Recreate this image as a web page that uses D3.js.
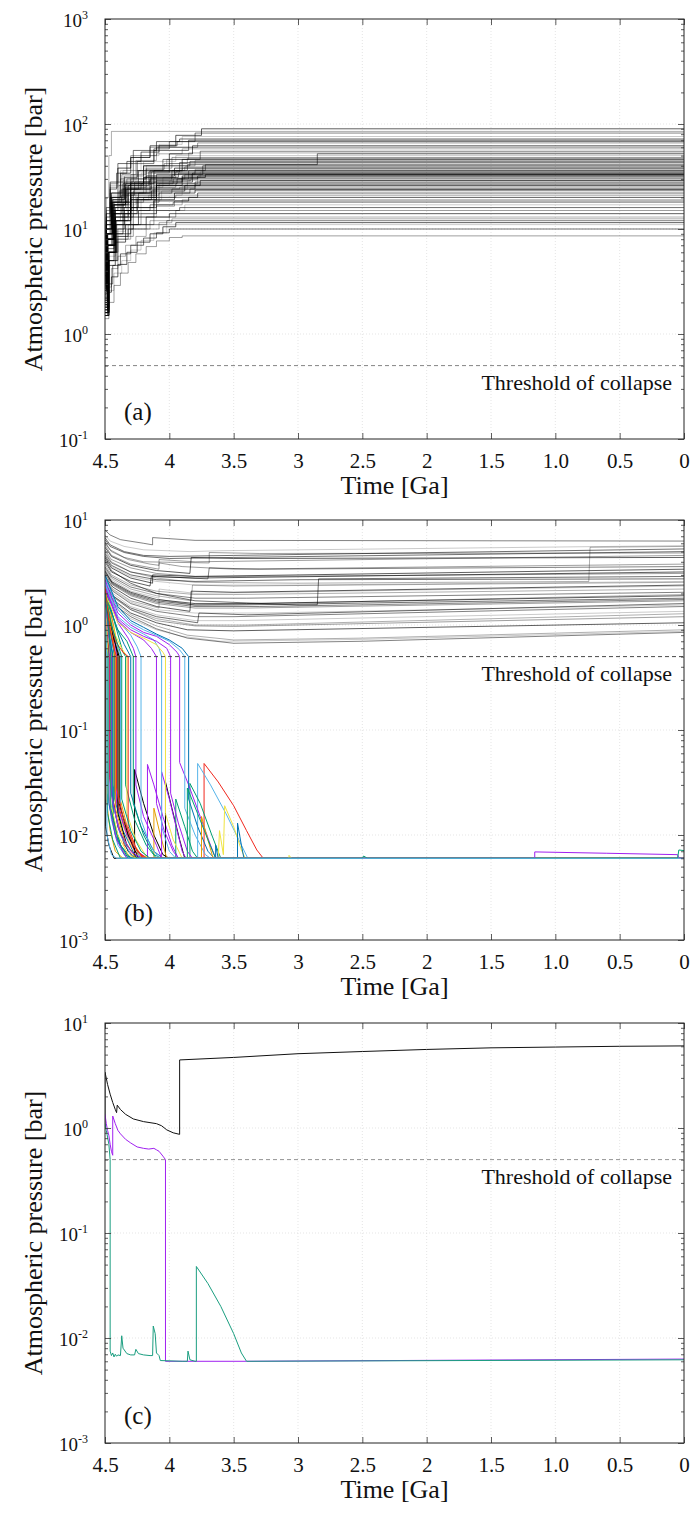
<!DOCTYPE html>
<html>
<head>
<meta charset="utf-8">
<script src="https://cdn.jsdelivr.net/npm/d3@7"></script>
<style>
	body { margin: 0; background: #fff; }
	svg text { font-family: "Liberation Serif", "Tinos", "DejaVu Serif", "Times New Roman", serif; fill: #111; }
</style>
</head>
<body>
<svg id="chart" width="696" height="1516"></svg>
<script>
/*
 * atmospheric pressure runs, three panels
 */

var timeTicks = [4.5, 4, 3.5, 3, 2.5, 2, 1.5, 1.0, 0.5, 0];
var timeLabels = ["4.5", "4", "3.5", "3", "2.5", "2", "1.5", "1.0", "0.5", "0"];
var THRESHOLD = 0.5;

// panel (a): every run survives, step histories [time Ga, bar]
var runsA = [
	[[4.5,2.4],[4.49,9],[4.46,20],[4.38,34],[4.3,48],[4.15,62],[3.95,78],[3.75,90],[0,90]],
	[[4.5,3.0],[4.49,20],[4.47,50],[4.45,85],[0,85]],
	[[4.5,1.8],[4.48,7],[4.45,15],[4.4,28],[4.28,42],[4.12,58],[4.0,68],[3.8,82],[0,82]],
	[[4.5,2.6],[4.49,10],[4.45,22],[4.36,36],[4.22,50],[4.08,64],[3.9,76],[0,76]],
	[[4.5,2.2],[4.48,9],[4.44,19],[4.35,31],[4.25,44],[4.12,56],[3.85,70],[0,70]],
	[[4.5,3.4],[4.49,13],[4.46,25],[4.4,38],[4.3,50],[4.1,60],[3.78,66],[0,66]],
	[[4.5,2.0],[4.48,8],[4.43,17],[4.34,27],[4.2,40],[4.0,52],[3.82,62],[0,62]],
	[[4.5,2.8],[4.49,11],[4.45,22],[4.37,33],[4.26,45],[4.1,52],[3.9,58],[0,58]],
	[[4.5,1.6],[4.48,7],[4.44,14],[4.36,24],[4.24,36],[4.05,46],[3.76,55],[0,55]],
	[[4.5,3.8],[4.49,14],[4.46,26],[4.38,36],[4.2,44],[3.95,50],[0,50]],
	[[4.5,2.3],[4.48,9],[4.43,18],[4.3,28],[4.15,36],[3.86,41],[2.85,52],[0,52]],
	[[4.5,2.7],[4.49,10],[4.44,20],[4.33,30],[4.18,38],[3.98,48],[0,48]],
	[[4.5,1.9],[4.48,8],[4.42,16],[4.3,27],[4.12,36],[3.9,46],[0,46]],
	[[4.5,3.1],[4.49,12],[4.45,22],[4.35,32],[4.2,40],[3.8,45],[0,45]],
	[[4.5,2.1],[4.48,8],[4.43,17],[4.32,26],[4.16,35],[3.92,43],[0,43]],
	[[4.5,2.5],[4.49,10],[4.44,19],[4.34,28],[4.22,34],[4.0,42],[0,42]],
	[[4.5,1.7],[4.48,7],[4.42,15],[4.3,24],[4.1,33],[3.74,40],[0,40]],
	[[4.5,3.6],[4.49,13],[4.46,22],[4.38,30],[4.25,36],[3.88,39],[0,39]],
	[[4.5,2.2],[4.48,9],[4.44,17],[4.34,25],[4.18,32],[3.96,38],[0,38]],
	[[4.5,2.9],[4.49,11],[4.45,20],[4.35,28],[4.12,34],[3.8,37],[0,37]],
	[[4.5,1.5],[4.47,6],[4.42,13],[4.32,22],[4.15,30],[3.85,36],[0,36]],
	[[4.5,2.4],[4.48,9],[4.43,17],[4.3,25],[4.05,31],[3.76,35],[0,35]],
	[[4.5,3.2],[4.49,12],[4.45,20],[4.36,27],[4.2,31],[3.93,34],[0,34]],
	[[4.5,2.0],[4.48,8],[4.42,15],[4.28,23],[4.1,29],[3.83,33],[0,33]],
	[[4.5,2.6],[4.49,10],[4.44,18],[4.33,24],[4.14,28],[3.9,32],[0,32]],
	[[4.5,1.8],[4.48,7],[4.43,14],[4.3,21],[4.08,27],[3.78,31],[0,31]],
	[[4.5,3.0],[4.49,11],[4.45,18],[4.37,24],[4.22,27],[3.97,30],[0,30]],
	[[4.5,2.3],[4.48,9],[4.44,16],[4.32,22],[4.12,26],[3.86,29],[0,29]],
	[[4.5,1.6],[4.47,6],[4.41,12],[4.3,19],[4.1,24],[3.8,28],[0,28]],
	[[4.5,2.8],[4.49,10],[4.45,17],[4.35,22],[4.18,25],[3.95,27],[0,27]],
	[[4.5,2.1],[4.48,8],[4.43,14],[4.3,19],[4.14,23],[3.88,26],[0,26]],
	[[4.5,3.5],[4.49,12],[4.46,18],[4.38,22],[4.2,24],[3.92,25],[0,25]],
	[[4.5,1.9],[4.48,7],[4.42,13],[4.28,18],[4.08,22],[3.84,24],[0,24]],
	[[4.5,2.5],[4.49,9],[4.44,15],[4.33,19],[4.16,21],[3.9,23],[0,23]],
	[[4.5,1.7],[4.47,6],[4.41,11],[4.3,16],[4.1,20],[3.78,22],[0,22]],
	[[4.5,2.7],[4.49,10],[4.45,15],[4.36,18],[4.2,20],[3.95,21],[0,21]],
	[[4.5,2.0],[4.48,7],[4.42,12],[4.3,16],[4.12,18.5],[3.85,20],[0,20]],
	[[4.5,1.6],[4.47,6],[4.4,10],[4.28,14],[4.1,17],[3.9,19],[0,19]],
	[[4.5,2.4],[4.48,8],[4.43,12],[4.32,15],[4.15,17],[3.97,18],[0,18]],
	[[4.5,1.8],[4.47,6],[4.4,10],[4.28,13],[4.1,15],[3.88,17],[0,17]],
	[[4.5,2.2],[4.48,7],[4.42,11],[4.3,13],[4.12,15],[3.92,16],[0,16]],
	[[4.5,1.5],[4.47,5],[4.4,8.5],[4.28,11],[4.12,13],[3.95,15],[0,15]],
	[[4.5,2.0],[4.48,6],[4.42,9],[4.3,11],[4.18,13],[4.0,14],[0,14]],
	[[4.5,1.6],[4.47,5],[4.4,8],[4.3,10],[4.15,12],[4.0,13],[0,13]],
	[[4.5,1.9],[4.48,6],[4.42,8.5],[4.32,10],[4.18,11],[4.02,12],[0,12]],
	[[4.5,1.5],[4.47,2.6],[4.43,3.8],[4.37,5.0],[4.3,6.3],[4.22,7.8],[4.12,9.2],[4.02,11],[0,11]],
	[[4.5,1.7],[4.48,3],[4.44,4.5],[4.38,5.8],[4.3,7],[4.2,8.2],[4.1,9.2],[4.0,10],[0,10]],
	[[4.5,1.4],[4.47,2.0],[4.43,2.9],[4.38,3.8],[4.32,4.8],[4.26,5.8],[4.18,6.8],[4.1,7.7],[4.0,8.3],[3.9,8.6],[0,8.6]],
	[[4.5,1.5],[4.48,2.5],[4.45,3.5],[4.4,4.6],[4.33,6],[4.25,7.5],[4.15,9],[4.05,10.5],[3.95,11.5],[0,11.5]],
	[[4.5,1.6],[4.48,2.8],[4.45,4.2],[4.4,5.5],[4.34,7],[4.26,8.5],[4.18,10],[4.08,11.5],[3.98,12.5],[0,12.5]],
	[[4.5,2.6],[4.49,9],[4.44,16],[4.34,24],[4.2,30],[3.98,36],[3.72,41],[0,41]],
	[[4.5,3.3],[4.49,12],[4.45,21],[4.36,29],[4.24,35],[3.9,38],[0,38]],
	[[4.5,2.1],[4.48,8],[4.43,15],[4.3,22],[4.12,28],[3.82,34],[0,34]],
	[[4.5,2.9],[4.49,10],[4.44,18],[4.32,26],[4.15,30],[3.88,33],[0,33]],
	[[4.5,1.8],[4.48,7],[4.42,13],[4.3,20],[4.1,26],[3.76,29],[0,29]],
	[[4.5,2.4],[4.48,9],[4.43,15],[4.3,21],[4.1,25],[3.8,26.5],[0,26.5]],
	[[4.5,3.0],[4.49,11],[4.45,19],[4.35,26],[4.2,31],[3.95,35],[0,35]],
	[[4.5,2.2],[4.48,8],[4.42,14],[4.3,20],[4.12,24],[3.86,27.5],[0,27.5]],
	[[4.5,4.5],[4.49,16],[4.46,28],[4.4,42],[4.28,56],[4.1,68],[3.92,72],[0,72]],
	[[4.5,4.0],[4.49,15],[4.46,27],[4.4,38],[4.3,48],[4.15,60],[0,60]],
	[[4.5,1.6],[4.47,5],[4.43,9],[4.36,14],[4.25,20],[4.1,26],[3.9,31],[3.72,33],[0,33]],
	[[4.5,2.0],[4.48,7],[4.44,12],[4.38,18],[4.28,24],[4.15,29],[3.98,33],[3.8,36],[0,36]],
	[[4.5,2.3],[4.48,8],[4.44,14],[4.37,21],[4.27,28],[4.14,35],[4.0,40],[3.84,44],[0,44]],
	[[4.5,1.7],[4.47,5.5],[4.42,9.5],[4.34,14],[4.22,19],[4.06,23],[3.9,25.5],[0,25.5]],
	[[4.5,1.9],[4.48,6.5],[4.43,11],[4.35,16],[4.24,22],[4.1,27],[3.94,30],[3.78,32],[0,32]],
	[[4.5,2.5],[4.49,9],[4.45,16],[4.39,23],[4.3,30],[4.18,37],[4.04,42],[3.86,47],[0,47]],
	[[4.5,1.5],[4.47,4.5],[4.42,7.5],[4.34,11],[4.24,15],[4.12,19],[3.96,22],[3.8,23.5],[0,23.5]],
	[[4.5,2.8],[4.49,10],[4.45,18],[4.39,26],[4.3,33],[4.18,40],[4.02,46],[3.85,53],[0,53]],
	[[4.5,1.8],[4.47,6],[4.43,10],[4.35,15],[4.25,19],[4.12,22],[3.98,24],[0,24]],
	[[4.5,2.1],[4.48,7],[4.43,12],[4.36,17],[4.26,22],[4.14,26],[4.0,28.5],[3.84,30.5],[0,30.5]],
	[[4.5,3.6],[4.49,14],[4.46,24],[4.41,34],[4.33,44],[4.22,54],[4.08,62],[3.94,68],[0,68]],
	[[4.5,1.6],[4.47,5],[4.41,8],[4.32,11],[4.22,14],[4.1,16.5],[3.96,18.5],[0,18.5]]
];

// panel (b): runs staying above the threshold
var survivorsB = [
	[[4.5,8.0],[4.46,7.2],[4.38,6.5],[4.2,6.0],[4.13,5.8],[4.13,6.8],[3.8,6.4],[0,6.3]],
	[[4.5,7.2],[4.46,6.3],[4.35,5.6],[4.2,5.2],[3.84,5.0],[3.6,5.1],[0,5.7]],
	[[4.5,6.5],[4.46,5.6],[4.35,4.9],[4.2,4.5],[4.0,4.3],[3.5,4.4],[0,5.0]],
	[[4.5,6.0],[4.45,5.0],[4.32,4.2],[4.15,3.8],[4.08,3.7],[4.08,4.2],[3.8,4.0],[0,4.6]],
	[[4.5,5.5],[4.45,4.5],[4.3,3.7],[4.1,3.3],[3.84,3.1],[3.83,4.4],[3.5,4.3],[0,4.4]],
	[[4.5,5.0],[4.45,4.0],[4.3,3.2],[4.1,2.8],[3.8,2.55],[3.0,2.5],[0.74,2.6],[0.73,5.5],[0,5.6]],
	[[4.5,4.8],[4.45,3.9],[4.3,3.2],[4.1,2.9],[3.7,2.75],[3.69,3.5],[3.3,3.4],[0,3.6]],
	[[4.5,4.5],[4.45,3.6],[4.3,2.9],[4.1,2.6],[3.8,2.4],[3.0,2.4],[0,2.6]],
	[[4.5,4.2],[4.45,3.3],[4.3,2.5],[4.1,2.0],[3.8,1.7],[3.0,1.55],[2.85,1.56],[2.84,2.75],[0,2.9]],
	[[4.5,5.8],[4.45,4.6],[4.3,3.8],[4.08,3.4],[4.08,3.9],[3.9,3.6],[3.5,3.4],[0,3.8]],
	[[4.5,4.0],[4.45,3.2],[4.3,2.6],[4.15,2.35],[4.14,2.9],[3.8,2.8],[0,3.2]],
	[[4.5,3.8],[4.45,3.0],[4.3,2.4],[4.1,2.1],[3.8,1.95],[3.5,1.95],[0,2.2]],
	[[4.5,3.6],[4.45,2.9],[4.3,2.3],[4.1,2.0],[3.8,1.8],[3.4,1.8],[0,2.05]],
	[[4.5,3.4],[4.45,2.7],[4.3,2.1],[4.08,1.8],[4.08,2.2],[3.8,2.0],[0,2.35]],
	[[4.5,3.2],[4.44,2.5],[4.3,2.0],[4.1,1.7],[3.8,1.55],[3.5,1.55],[0,1.8]],
	[[4.5,3.0],[4.44,2.4],[4.3,1.9],[4.1,1.6],[3.8,1.45],[3.4,1.45],[0,1.7]],
	[[4.5,2.9],[4.44,2.3],[4.3,1.8],[4.1,1.5],[3.84,1.35],[3.83,2.1],[3.5,2.05],[0,2.4]],
	[[4.5,2.8],[4.44,2.2],[4.3,1.7],[4.08,1.45],[4.08,1.75],[3.8,1.55],[0,1.95]],
	[[4.5,2.7],[4.44,2.1],[4.3,1.6],[4.1,1.35],[3.8,1.2],[3.5,1.2],[0,1.5]],
	[[4.5,2.6],[4.44,2.0],[4.3,1.5],[4.1,1.25],[3.8,1.1],[3.5,1.1],[0,1.35]],
	[[4.5,2.5],[4.44,1.9],[4.3,1.45],[4.1,1.2],[3.78,1.05],[3.77,1.3],[3.4,1.25],[0,1.6]],
	[[4.5,2.4],[4.44,1.85],[4.3,1.4],[4.1,1.1],[3.8,0.98],[3.5,0.97],[0,1.2]],
	[[4.5,2.3],[4.44,1.75],[4.3,1.3],[4.1,1.05],[3.86,0.9],[3.5,0.88],[0,1.05]],
	[[4.5,2.2],[4.44,1.7],[4.3,1.25],[4.1,0.98],[3.86,0.8],[3.5,0.72],[2.5,0.75],[0,0.9]],
	[[4.5,2.1],[4.44,1.6],[4.3,1.2],[4.1,0.92],[3.86,0.75],[3.5,0.67],[2.5,0.7],[0,0.85]],
	[[4.5,2.0],[4.44,1.55],[4.3,1.15],[4.1,0.9],[3.9,0.78],[3.6,0.7],[2.5,0.73],[0,0.87]],
	[[4.5,6.8],[4.46,5.8],[4.35,5.0],[4.2,4.6],[4.0,4.5],[3.5,4.6],[0,5.3]],
	[[4.5,5.2],[4.45,4.2],[4.3,3.5],[4.1,3.1],[3.8,2.9],[3.4,2.9],[0,3.1]],
	[[4.5,4.4],[4.45,3.5],[4.3,2.8],[4.13,2.5],[4.13,3.0],[3.8,2.9],[0,3.4]],
	[[4.5,3.5],[4.45,2.8],[4.3,2.2],[4.1,1.9],[3.83,1.7],[3.82,2.4],[3.5,2.35],[0,2.55]],
	[[4.5,3.1],[4.44,2.45],[4.3,1.95],[4.1,1.65],[3.8,1.5],[3.3,1.5],[0,1.75]],
	[[4.5,2.75],[4.44,2.15],[4.3,1.65],[4.1,1.4],[3.8,1.3],[3.3,1.3],[0,1.55]],
	[[4.5,4.6],[4.45,3.7],[4.3,3.0],[4.1,2.7],[3.8,2.6],[3.0,2.7],[0,2.75]],
	[[4.5,6.2],[4.46,5.2],[4.35,4.4],[4.2,4.0],[3.69,3.9],[3.69,4.9],[3.3,4.8],[0,4.85]],
	[[4.5,3.3],[4.45,2.6],[4.3,2.05],[4.1,1.75],[3.8,1.6],[3.4,1.6],[0,1.9]],
	[[4.5,2.45],[4.44,1.9],[4.3,1.4],[4.1,1.15],[3.8,1.0],[3.4,1.0],[0,1.28]]
];

// panel (b): runs that collapse below the threshold
var collapsedB = [
	[[4.5,1.3],[4.495,0.5],[4.495,0.012],[4.47,0.008],[4.43,0.006],[0,0.006]],
	[[4.5,1.7],[4.49,0.5],[4.49,0.022],[4.46,0.011],[4.42,0.007],[4.36,0.006],[0,0.006]],
	[[4.5,2.1],[4.485,0.5],[4.485,0.03],[4.45,0.014],[4.4,0.008],[4.33,0.006],[0,0.006]],
	[[4.5,1.5],[4.48,0.5],[4.48,0.016],[4.44,0.009],[4.38,0.006],[0,0.006]],
	[[4.5,1.9],[4.475,0.5],[4.475,0.025],[4.43,0.012],[4.36,0.007],[4.3,0.006],[0,0.006]],
	[[4.5,2.3],[4.48,0.9],[4.47,0.5],[4.47,0.02],[4.42,0.01],[4.35,0.0065],[4.28,0.006],[0,0.006]],
	[[4.5,1.6],[4.465,0.5],[4.465,0.035],[4.42,0.016],[4.35,0.008],[4.27,0.006],[3.73,0.006],[3.73,0.048],[3.62,0.032],[3.5,0.019],[3.4,0.011],[3.32,0.0072],[3.27,0.006],[0,0.006]],
	[[4.5,2.0],[4.47,0.8],[4.46,0.5],[4.46,0.018],[4.41,0.009],[4.33,0.006],[0,0.006]],
	[[4.5,2.5],[4.47,1.0],[4.455,0.5],[4.455,0.028],[4.4,0.012],[4.32,0.007],[4.27,0.006],[4.27,0.042],[4.2,0.02],[4.12,0.01],[4.05,0.0065],[4.0,0.006],[0,0.006]],
	[[4.5,1.8],[4.46,0.7],[4.45,0.5],[4.45,0.04],[4.4,0.018],[4.3,0.009],[4.2,0.006],[0,0.006]],
	[[4.5,2.2],[4.46,0.9],[4.44,0.5],[4.44,0.02],[4.38,0.01],[4.3,0.0065],[4.22,0.006],[3.78,0.006],[3.78,0.048],[3.68,0.03],[3.56,0.016],[3.46,0.009],[3.39,0.006],[0,0.006]],
	[[4.5,1.4],[4.45,0.6],[4.435,0.5],[4.435,0.014],[4.38,0.008],[4.3,0.006],[3.84,0.006],[3.84,0.031],[3.76,0.02],[3.67,0.01],[3.6,0.006],[0,0.006]],
	[[4.5,2.4],[4.45,1.0],[4.43,0.5],[4.43,0.03],[4.38,0.014],[4.3,0.008],[4.22,0.006],[3.62,0.006],[3.61,0.011],[3.58,0.0065],[3.57,0.019],[3.5,0.012],[3.44,0.0072],[3.41,0.006],[0,0.006]],
	[[4.5,1.7],[4.45,0.75],[4.425,0.5],[4.425,0.022],[4.36,0.011],[4.27,0.0065],[4.2,0.006],[3.47,0.006],[3.47,0.013],[3.44,0.008],[3.42,0.006],[0,0.006]],
	[[4.5,2.0],[4.44,0.85],[4.42,0.5],[4.42,0.026],[4.36,0.013],[4.27,0.007],[4.2,0.006],[0,0.006]],
	[[4.5,2.6],[4.44,1.05],[4.41,0.5],[4.41,0.02],[4.33,0.01],[4.25,0.007],[4.17,0.006],[4.17,0.047],[4.12,0.03],[4.05,0.015],[3.98,0.008],[3.93,0.006],[0,0.006]],
	[[4.5,1.9],[4.43,0.8],[4.4,0.5],[4.4,0.016],[4.33,0.008],[4.25,0.006],[4.03,0.006],[4.03,0.032],[3.98,0.018],[3.92,0.009],[3.88,0.006],[0,0.006]],
	[[4.5,2.2],[4.43,0.95],[4.39,0.5],[4.39,0.024],[4.32,0.011],[4.24,0.0065],[4.15,0.006],[4.12,0.006],[4.12,0.018],[4.07,0.01],[4.02,0.006],[0,0.006]],
	[[4.5,1.6],[4.42,0.7],[4.38,0.5],[4.38,0.018],[4.3,0.009],[4.22,0.006],[0,0.006]],
	[[4.5,2.3],[4.42,1.0],[4.36,0.55],[4.34,0.5],[4.34,0.03],[4.27,0.014],[4.18,0.008],[4.1,0.006],[3.95,0.006],[3.95,0.022],[3.88,0.012],[3.82,0.007],[3.78,0.006],[0,0.006]],
	[[4.5,1.8],[4.42,0.8],[4.37,0.6],[4.33,0.5],[4.33,0.016],[4.26,0.009],[4.17,0.006],[0,0.006]],
	[[4.5,2.1],[4.41,0.95],[4.35,0.65],[4.3,0.5],[4.3,0.025],[4.22,0.012],[4.12,0.007],[4.05,0.006],[0,0.006]],
	[[4.5,1.5],[4.42,0.7],[4.36,0.55],[4.32,0.5],[4.32,0.012],[4.25,0.007],[4.18,0.006],[0,0.006]],
	[[4.5,2.4],[4.4,1.05],[4.32,0.75],[4.28,0.6],[4.26,0.5],[4.26,0.03],[4.2,0.015],[4.1,0.008],[4.06,0.006],[4.06,0.04],[4.0,0.022],[3.94,0.011],[3.9,0.007],[3.87,0.006],[0,0.006]],
	[[4.5,1.9],[4.4,0.9],[4.33,0.7],[4.28,0.5],[4.28,0.02],[4.2,0.01],[4.12,0.0065],[4.06,0.006],[0,0.006]],
	[[4.5,2.5],[4.4,1.1],[4.3,0.8],[4.25,0.62],[4.22,0.5],[4.22,0.014],[4.15,0.008],[4.08,0.006],[0,0.006]],
	[[4.5,2.2],[4.4,1.1],[4.3,0.85],[4.2,0.72],[4.14,0.6],[4.1,0.5],[4.1,0.02],[4.04,0.011],[3.97,0.007],[3.93,0.006],[0,0.006]],
	[[4.5,2.6],[4.4,1.2],[4.3,0.95],[4.2,0.82],[4.12,0.72],[4.08,0.6],[4.06,0.5],[4.06,0.012],[4.0,0.007],[3.95,0.006],[0,0.006]],
	[[4.5,2.0],[4.4,1.05],[4.3,0.85],[4.2,0.75],[4.1,0.65],[4.05,0.55],[4.03,0.5],[4.03,0.016],[3.97,0.009],[3.9,0.006],[0,0.006]],
	[[4.5,2.3],[4.4,1.15],[4.3,0.9],[4.2,0.78],[4.1,0.7],[4.02,0.6],[3.99,0.5],[3.99,0.025],[3.93,0.013],[3.86,0.007],[3.82,0.006],[0,0.006]],
	[[4.5,2.7],[4.4,1.3],[4.3,1.0],[4.2,0.85],[4.1,0.78],[4.0,0.65],[3.94,0.55],[3.92,0.5],[3.92,0.049],[3.85,0.03],[3.76,0.015],[3.68,0.008],[3.64,0.006],[0,0.006]],
	[[4.5,2.9],[4.4,1.4],[4.3,1.05],[4.2,0.9],[4.1,0.8],[4.0,0.7],[3.92,0.58],[3.88,0.5],[3.88,0.018],[3.8,0.01],[3.72,0.0065],[3.68,0.006],[0,0.006]],
	[[4.5,3.0],[4.4,1.5],[4.3,1.1],[4.2,0.95],[4.1,0.82],[4.0,0.72],[3.9,0.6],[3.85,0.5],[3.85,0.022],[3.78,0.012],[3.7,0.007],[3.65,0.006],[0,0.006]],
	[[4.5,1.7],[4.44,0.8],[4.41,0.6],[4.39,0.5],[4.39,0.02],[4.32,0.01],[4.24,0.006],[0,0.006]],
	[[4.5,2.3],[4.46,1.0],[4.43,0.6],[4.42,0.5],[4.42,0.018],[4.35,0.009],[4.26,0.006],[3.75,0.006],[3.75,0.015],[3.7,0.009],[3.66,0.006],[0,0.006]],
	[[4.5,2.0],[4.44,0.9],[4.4,0.65],[4.37,0.5],[4.37,0.022],[4.3,0.011],[4.22,0.007],[4.15,0.006],[3.86,0.006],[3.86,0.028],[3.78,0.016],[3.7,0.009],[3.64,0.006],[0,0.006]],
	[[4.5,1.6],[4.47,0.8],[4.45,0.6],[4.44,0.5],[4.44,0.015],[4.38,0.008],[4.3,0.006],[3.64,0.006],[3.64,0.008],[3.62,0.006],[0,0.006]],
	[[4.5,2.2],[4.46,0.9],[4.43,0.6],[4.41,0.5],[4.41,0.028],[4.36,0.015],[4.28,0.008],[4.2,0.006],[0,0.006]],
	[[4.5,1.5],[4.47,0.7],[4.455,0.5],[4.455,0.02],[4.4,0.01],[4.32,0.0065],[4.26,0.006],[3.07,0.006],[3.07,0.0064],[3.05,0.006],[0,0.006]],
	[[4.5,1.8],[4.47,0.75],[4.45,0.5],[4.45,0.024],[4.39,0.011],[4.3,0.007],[4.22,0.006],[1.16,0.006],[1.16,0.0069],[0.6,0.0067],[0.05,0.0065],[0.04,0.006],[0,0.006]],
	[[4.5,2.0],[4.47,0.85],[4.455,0.5],[4.455,0.018],[4.4,0.009],[4.32,0.006],[2.5,0.006],[2.49,0.0063],[2.46,0.006],[0.05,0.006],[0.04,0.0072],[0,0.0071]],
	[[4.5,1.4],[4.49,0.6],[4.485,0.5],[4.485,0.01],[4.45,0.0065],[4.41,0.006],[0,0.006]]
];

var K = "#000000", O = "#E69F00", L = "#56B4E9", G = "#009E73",
	Y = "#F0E442", B = "#0072B2", R = "#F0281E", P = "#A020F0";

var collapsedColors = [K,O,L,G,Y,B,R,P,K,O,L,G,Y,B,R,P,K,O,L,G,Y,B,R,P,
	G,L,P,L,Y,P,P,L,B,K,O,G,B,R,Y,P,G,L];

// panel (c): three single runs
var blackC = [[4.5,1.0],[4.5,3.4],[4.48,2.6],[4.46,2.1],[4.44,1.75],[4.42,1.5],[4.41,1.4],[4.405,1.65],
	[4.38,1.5],[4.34,1.35],[4.28,1.22],[4.2,1.15],[4.1,1.1],[4.06,1.05],[4.02,0.96],[3.97,0.9],[3.92,0.87],
	[3.92,4.45],[3.5,4.7],[3.0,5.1],[2.5,5.35],[2.0,5.6],[1.5,5.8],[1.0,5.9],[0.5,6.0],[0,6.05]];

var purpleC = [[4.5,1.35],[4.49,1.1],[4.48,0.95],[4.47,0.85],[4.46,0.7],[4.45,0.6],[4.44,0.55],[4.44,1.3],
	[4.42,1.1],[4.4,0.95],[4.38,0.88],[4.34,0.78],[4.3,0.72],[4.25,0.66],[4.2,0.64],[4.16,0.63],[4.12,0.64],
	[4.1,0.62],[4.08,0.6],[4.05,0.54],[4.03,0.5],[4.03,0.006],[3.4,0.006],[0,0.0063]];

var tealC = [[4.5,1.1],[4.49,0.95],[4.47,0.7],[4.46,0.5],[4.46,0.0075],[4.45,0.0068],[4.44,0.0072],[4.43,0.0066],
	[4.42,0.007],[4.41,0.0067],[4.4,0.0069],[4.38,0.0068],[4.37,0.0105],[4.36,0.008],[4.33,0.0071],[4.3,0.0069],
	[4.27,0.0069],[4.26,0.0078],[4.24,0.0071],[4.2,0.0069],[4.15,0.0068],[4.13,0.0068],[4.125,0.013],[4.11,0.011],
	[4.1,0.0072],[4.08,0.0068],[4.07,0.0061],[3.9,0.006],[3.86,0.006],[3.855,0.0075],[3.84,0.0062],[3.8,0.006],
	[3.79,0.006],[3.79,0.048],[3.7,0.033],[3.6,0.02],[3.5,0.011],[3.44,0.0072],[3.4,0.006],[0,0.0062]];

var PLOT_LEFT = 105;
var PLOT_RIGHT = 684;
var PLOT_H = 420;
var SERIF = "'Liberation Serif', Tinos, 'DejaVu Serif', 'Times New Roman', serif";
var greyShades = [0.9, 0.45, 0.7, 0.3, 0.8, 0.55];

var svg = d3.select("#chart");

var x = d3.scaleLinear()
	.domain([4.5, 0])
	.range([PLOT_LEFT, PLOT_RIGHT]);

function drawPanel(top, yMin, yMax, tag, dashColor) {

	var bottom = top + PLOT_H;
	var y = d3.scaleLog()
		.domain([yMin, yMax])
		.range([bottom, top]);

	var g = svg.append("g");

	var decades = [];
	var minors = [];
	for (var e = Math.round(Math.log10(yMin)); e <= Math.round(Math.log10(yMax)); e++) {
		decades.push(Math.pow(10, e));
		if (e < Math.round(Math.log10(yMax))) {
			for (var k = 2; k <= 9; k++) {
				minors.push(k * Math.pow(10, e));
			}
		}
	}

	// grid
	g.selectAll(".gx")
		.data(timeTicks.slice(1, -1))
		.enter()
		.append("line")
		.attr("x1", function(d) { return x(d); })
		.attr("x2", function(d) { return x(d); })
		.attr("y1", top)
		.attr("y2", bottom)
		.attr("stroke", "#d4d4d4")
		.attr("stroke-width", 0.6)
		.attr("stroke-dasharray", "1,2");

	g.selectAll(".gy")
		.data(decades.slice(1, -1))
		.enter()
		.append("line")
		.attr("x1", PLOT_LEFT)
		.attr("x2", PLOT_RIGHT)
		.attr("y1", function(d) { return y(d); })
		.attr("y2", function(d) { return y(d); })
		.attr("stroke", "#d4d4d4")
		.attr("stroke-width", 0.6)
		.attr("stroke-dasharray", "1,2");

	var clipId = "clip" + tag;
	svg.append("clipPath")
		.attr("id", clipId)
		.append("rect")
		.attr("x", PLOT_LEFT)
		.attr("y", top)
		.attr("width", PLOT_RIGHT - PLOT_LEFT)
		.attr("height", PLOT_H);

	var lines = g.append("g").attr("clip-path", "url(#" + clipId + ")");

	// threshold of collapse
	g.append("line")
		.attr("x1", PLOT_LEFT)
		.attr("x2", PLOT_RIGHT)
		.attr("y1", y(THRESHOLD))
		.attr("y2", y(THRESHOLD))
		.attr("stroke", dashColor)
		.attr("stroke-width", 0.9)
		.attr("stroke-dasharray", "4,3");

	g.append("text")
		.attr("x", 672)
		.attr("y", y(THRESHOLD) + 24)
		.attr("text-anchor", "end")
		.attr("font-size", 22)
		.text("Threshold of collapse");

	g.append("text")
		.attr("x", 124)
		.attr("y", bottom - 19)
		.attr("font-size", 25)
		.text("(" + tag + ")");

	// axes
	var axes = svg.append("g").attr("font-family", SERIF);

	axes.append("g")
		.attr("transform", "translate(0," + bottom + ")")
		.call(d3.axisBottom(x).tickValues(timeTicks)
			.tickFormat(function(d, i) { return timeLabels[i]; })
			.tickSize(-6).tickPadding(14))
		.attr("font-size", 21)
		.attr("font-family", SERIF);

	axes.append("g")
		.attr("transform", "translate(0," + top + ")")
		.call(d3.axisTop(x).tickValues(timeTicks).tickFormat("").tickSize(-6));

	[["left", PLOT_LEFT], ["right", PLOT_RIGHT]].forEach(function(side) {
		var mk = side[0] == "left" ? d3.axisLeft : d3.axisRight;
		axes.append("g")
			.attr("transform", "translate(" + side[1] + ",0)")
			.call(mk(y).tickValues(decades).tickFormat("").tickSize(-6));
		axes.append("g")
			.attr("transform", "translate(" + side[1] + ",0)")
			.call(mk(y).tickValues(minors).tickFormat("").tickSize(-3));
	});

	axes.selectAll(".domain").remove();
	axes.selectAll(".tick line").attr("stroke", "#333").attr("stroke-width", 0.8);

	axes.append("rect")
		.attr("x", PLOT_LEFT)
		.attr("y", top)
		.attr("width", PLOT_RIGHT - PLOT_LEFT)
		.attr("height", PLOT_H)
		.attr("fill", "none")
		.attr("stroke", "#222")
		.attr("stroke-width", 1);

	// y tick labels 10^n
	var lab = axes.selectAll(".ylab")
		.data(decades)
		.enter()
		.append("text")
		.attr("x", 88)
		.attr("y", function(d) { return y(d) + 8; })
		.attr("text-anchor", "end");
	lab.append("tspan")
		.attr("font-size", 19)
		.text("10");
	lab.append("tspan")
		.attr("font-size", 12)
		.attr("dy", -8)
		.text(function(d) { return String(Math.round(Math.log10(d))); });

	svg.append("text")
		.attr("x", (PLOT_LEFT + PLOT_RIGHT) / 2)
		.attr("y", bottom + 55)
		.attr("text-anchor", "middle")
		.attr("font-size", 26)
		.text("Time [Ga]");

	svg.append("text")
		.attr("transform", "translate(42," + (top + PLOT_H / 2) + ") rotate(-90)")
		.attr("text-anchor", "middle")
		.attr("font-size", 26)
		.text("Atmospheric pressure [bar]");

	return { y: y, lines: lines };
}

// (a)
var pa = drawPanel(19, 0.1, 1000, "a", "#777");
var stepLine = d3.line()
	.x(function(d) { return x(d[0]); })
	.y(function(d) { return pa.y(d[1]); })
	.curve(d3.curveStepAfter);

pa.lines.selectAll("path")
	.data(runsA)
	.enter()
	.append("path")
	.attr("d", stepLine)
	.attr("fill", "none")
	.attr("stroke", "#000")
	.attr("stroke-opacity", function(d, i) { return greyShades[i % greyShades.length]; })
	.attr("stroke-width", 0.7);

// (b)
var pb = drawPanel(520, 0.001, 10, "b", "#333");
var lineB = d3.line()
	.x(function(d) { return x(d[0]); })
	.y(function(d) { return pb.y(d[1]); });

pb.lines.selectAll(".surv")
	.data(survivorsB)
	.enter()
	.append("path")
	.attr("d", lineB)
	.attr("fill", "none")
	.attr("stroke", "#000")
	.attr("stroke-opacity", function(d, i) { return greyShades[(i + 2) % greyShades.length]; })
	.attr("stroke-width", 0.7);

pb.lines.selectAll(".coll")
	.data(collapsedB)
	.enter()
	.append("path")
	.attr("d", lineB)
	.attr("fill", "none")
	.attr("stroke", function(d, i) { return collapsedColors[i]; })
	.attr("stroke-width", 1);

// (c)
var pc = drawPanel(1023, 0.001, 10, "c", "#888");
var lineC = d3.line()
	.x(function(d) { return x(d[0]); })
	.y(function(d) { return pc.y(d[1]); });

pc.lines.selectAll("path")
	.data([blackC, purpleC, tealC])
	.enter()
	.append("path")
	.attr("d", lineC)
	.attr("fill", "none")
	.attr("stroke", function(d, i) { return ["#111111", "#A020F0", "#1A9E80"][i]; })
	.attr("stroke-width", 1);
</script>
</body>
</html>
